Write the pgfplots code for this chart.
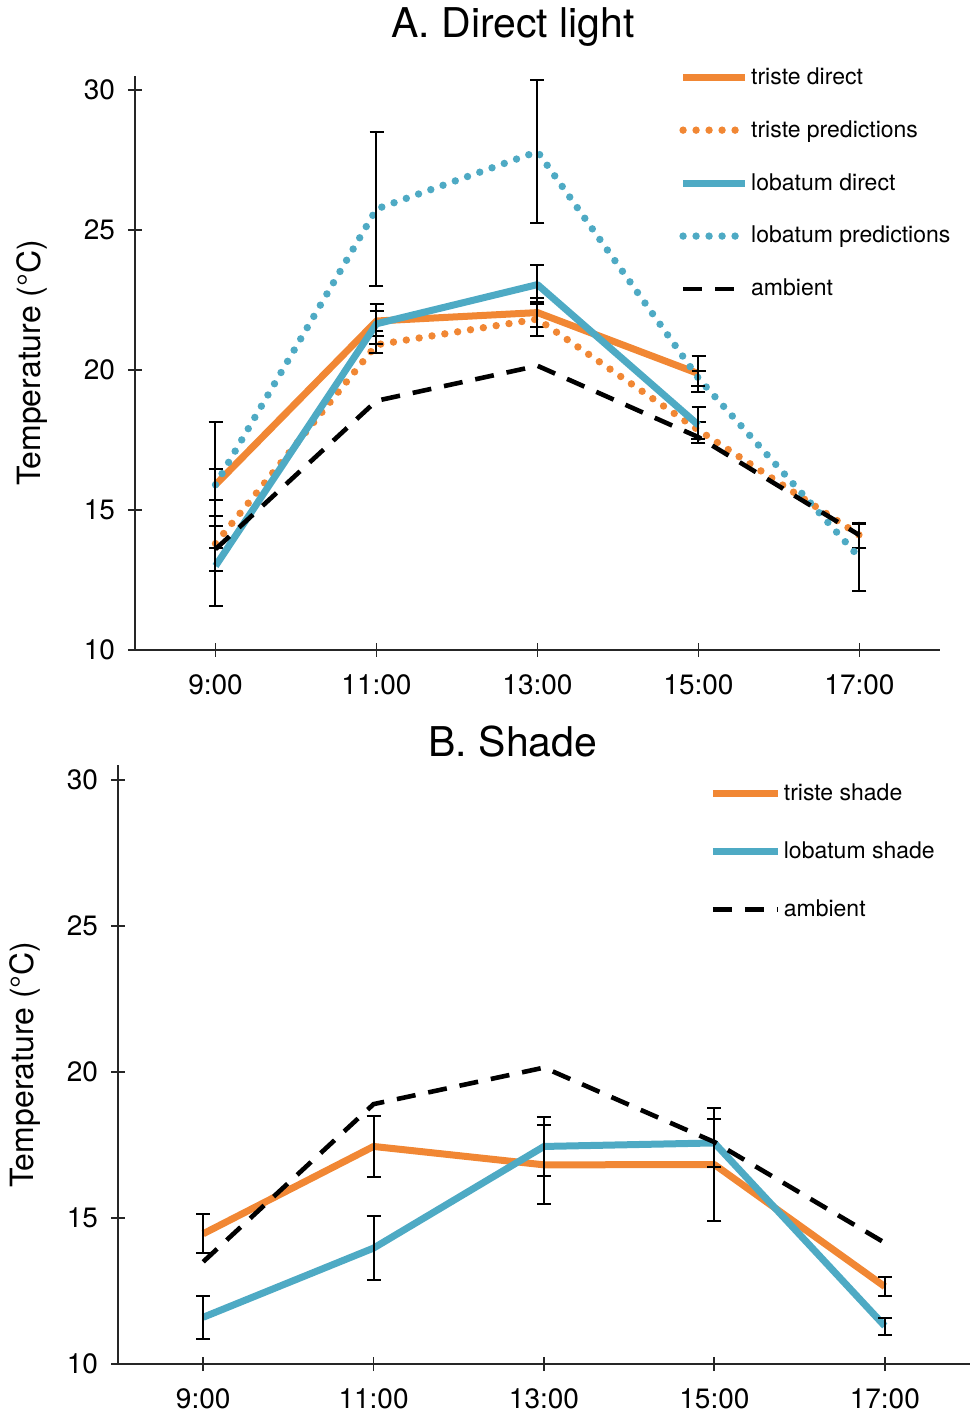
\documentclass[border=0pt]{standalone}
\usepackage{fontspec}
\setmainfont{TeX Gyre Heros}
\usepackage{pgfplots}
\pgfplotsset{compat=1.18}
\usepackage{pgfplotstable}
\definecolor{tor}{RGB}{241,135,52}
\definecolor{lblue}{RGB}{78,170,196}

\pgfplotstableread{
x y e
0 15.9 2.25
1 21.75 0.35
2 22.05 0.53
3 19.87 0.64
}\tristeDirect
\pgfplotstableread{
x y e
0 13.8 0.97
1 20.9 0.3
2 21.82 0.6
3 17.85 0.3
4 14.1 0.45
}\tristePred
\pgfplotstableread{
x y e
0 13.0 1.42
1 21.65 0.71
2 23.05 0.69
3 18.03 0.65
}\lobDirect
\pgfplotstableread{
x y e
0 15.9 0.55
1 25.75 2.75
2 27.8 2.55
3 19.7 0.26
4 13.3 1.2
}\lobPred
\pgfplotstableread{
x y
0 13.6
1 18.9
2 20.15
3 17.6
4 14.1
}\ambA
\pgfplotstableread{
x y e
0 14.46 0.67
1 17.45 1.04
2 16.82 1.35
3 16.83 1.93
4 12.65 0.33
}\tristeShade
\pgfplotstableread{
x y e
0 11.6 0.74
1 13.97 1.09
2 17.45 1.0
3 17.57 0.82
4 11.3 0.29
}\lobShade
\pgfplotstableread{
x y
0 13.5
1 18.9
2 20.15
3 17.6
4 14.15
}\ambB

\pgfplotsset{
  myaxis/.style={
    scale only axis, clip=false,
    xmin=-0.5, xmax=4.5, ymin=10, ymax=30.5,
    axis x line=bottom, axis y line=left,
    axis line style={-, line width=0.9pt, black!85},
    xtick={0,1,2,3,4}, xticklabels={9:00,11:00,13:00,15:00,17:00},
    ytick={10,15,20,25,30},
    tick align=center, major tick length=7pt,
    tick style={line width=0.9pt, black!85},
    ticklabel style={font=\fontsize{14}{16}\selectfont},
    xticklabel style={yshift=-5.5pt},
    yticklabel style={xshift=-3pt},
    /pgf/number format/assume math mode=true,
    ylabel={Temperature (°C)},
    ylabel style={font=\fontsize{16}{18}\selectfont, rotate=0, anchor=center},
    title style={font=\fontsize{20.5}{24}\selectfont, anchor=base},
    legend cell align=left,
    legend style={draw=none, fill=none, font=\fontsize{11.5}{13}\selectfont,
      anchor=north west, nodes={inner sep=1.2pt}},
    legend image code/.code={\draw[##1] (0pt,0pt) -- (31pt,0pt);},
  },
  ebar/.style={error bars/y dir=both, error bars/y explicit,
    error bars/error bar style={black, line width=1pt, solid},
    error bars/error mark options={rotate=90, mark size=3.5pt, black, line width=1pt, solid}},
  solidline/.style={line width=3.5pt, line join=round, mark=none},
  dotline/.style={line width=3.7pt, line cap=round, dash pattern=on 0pt off 6.5pt, mark=none},
  ambline/.style={black, line width=2.3pt, dash pattern=on 9.5pt off 6.5pt, mark=none},
}

\begin{document}
\begin{tikzpicture}
\path[use as bounding box] (0,0) rectangle (486pt,707.5pt);
\begin{axis}[myaxis, at={(67.5pt,382.5pt)}, width=402.5pt, height=287pt,
  title={A. Direct light}, title style={at={(axis description cs:0.4696,1)}, yshift=13pt},
  ylabel style={at={(axis description cs:-0.128,0.5)}},
  legend style={at={(axis description cs:0.6683,1.027)}, row sep=14.2pt}]
\addplot[tor, solidline, ebar] table[x=x, y=y, y error=e] {\tristeDirect};
\addlegendentry{triste direct}
\addplot[tor, dotline, ebar] table[x=x, y=y, y error=e] {\tristePred};
\addlegendentry{triste predictions}
\addplot[lblue, solidline, ebar] table[x=x, y=y, y error=e] {\lobDirect};
\addlegendentry{lobatum direct}
\addplot[lblue, dotline, ebar] table[x=x, y=y, y error=e] {\lobPred};
\addlegendentry{lobatum predictions}
\addplot[ambline] table[x=x, y=y] {\ambA};
\addlegendentry{ambient}
\end{axis}
\begin{axis}[myaxis, at={(59pt,25.5pt)}, width=426pt, height=299.3pt,
  title={B. Shade}, title style={at={(axis description cs:0.4636,1)}, yshift=-1.5pt},
  ylabel style={at={(axis description cs:-0.109,0.5)}},
  legend style={at={(axis description cs:0.6867,0.981)}, row sep=16.8pt},
  legend image code/.code={\draw[#1] (0pt,0pt) -- (32.5pt,0pt);}]
\addplot[tor, solidline, ebar] table[x=x, y=y, y error=e] {\tristeShade};
\addlegendentry{triste shade}
\addplot[lblue, solidline, ebar] table[x=x, y=y, y error=e] {\lobShade};
\addlegendentry{lobatum shade}
\addplot[ambline] table[x=x, y=y] {\ambB};
\addlegendentry{ambient}
\end{axis}
\end{tikzpicture}
\end{document}
